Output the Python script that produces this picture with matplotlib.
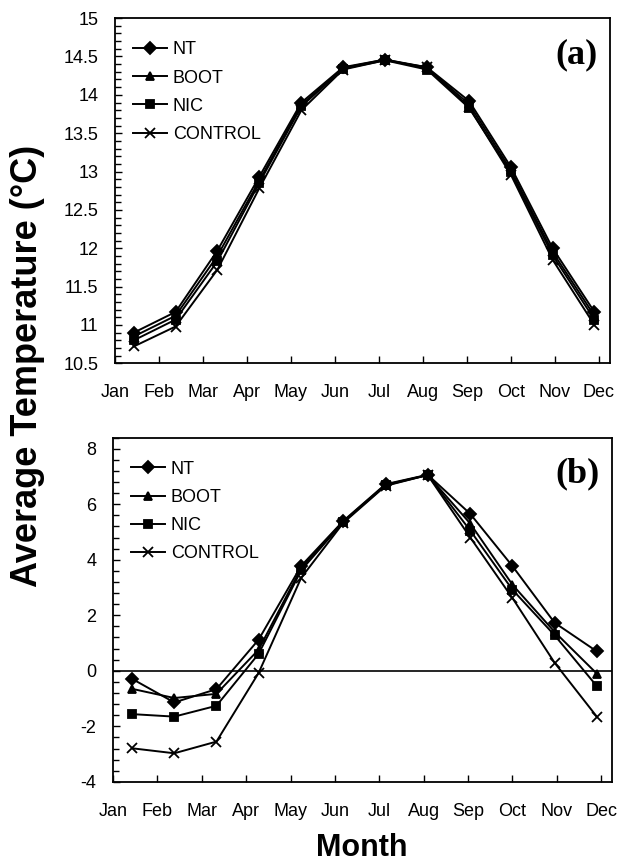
#!/usr/bin/env python3
"""Monthly average temperature for the four runs, two panels."""

import matplotlib
matplotlib.use("Agg")
import matplotlib.pyplot as plt
from matplotlib.ticker import MultipleLocator

plt.rcParams['font.family'] = ['Liberation Sans', 'DejaVu Sans']
plt.rcParams['axes.unicode_minus'] = False

MONTHS = ['Jan', 'Feb', 'Mar', 'Apr', 'May', 'Jun',
          'Jul', 'Aug', 'Sep', 'Oct', 'Nov', 'Dec']
# where the points sit on the month axis (labels are at 1..12)
MONTH_X = [1.43, 2.38, 3.33, 4.28, 5.24, 6.19, 7.14, 8.09, 9.05, 10.0, 10.95, 11.9]

SERIES = ['NT', 'BOOT', 'NIC', 'CONTROL']
MARKERS = {'NT': 'D', 'BOOT': '^', 'NIC': 's', 'CONTROL': 'x'}

# panel (a)
A_NT = [10.90, 11.17, 11.97, 12.93, 13.90, 14.36, 14.46, 14.36, 13.92, 13.06, 12.00, 11.17]
A_BOOT = [10.85, 11.12, 11.90, 12.88, 13.87, 14.35, 14.46, 14.35, 13.88, 13.02, 11.95, 11.12]
A_NIC = [10.80, 11.07, 11.83, 12.85, 13.85, 14.34, 14.45, 14.33, 13.83, 12.99, 11.91, 11.07]
A_CONTROL = [10.72, 10.98, 11.72, 12.78, 13.80, 14.33, 14.45, 14.36, 13.84, 12.96, 11.85, 11.00]

# panel (b)
B_NT = [-0.29, -1.14, -0.66, 1.12, 3.78, 5.40, 6.72, 7.06, 5.65, 3.77, 1.73, 0.70]
B_BOOT = [-0.65, -0.98, -0.83, 0.76, 3.70, 5.38, 6.70, 7.05, 5.30, 3.10, 1.40, -0.10]
B_NIC = [-1.56, -1.65, -1.26, 0.61, 3.62, 5.36, 6.68, 7.05, 5.05, 2.92, 1.28, -0.55]
B_CONTROL = [-2.79, -2.97, -2.55, -0.08, 3.35, 5.33, 6.66, 7.05, 4.80, 2.62, 0.29, -1.65]

fig = plt.figure(figsize=(6.21, 8.63), dpi=100)
ax_a = fig.add_axes([0.185, 0.579, 0.797, 0.400])
ax_b = fig.add_axes([0.182, 0.094, 0.804, 0.399])

panels = [
    (ax_a, [A_NT, A_BOOT, A_NIC, A_CONTROL], (10.5, 15), 0.5, 0.1, '(a)'),
    (ax_b, [B_NT, B_BOOT, B_NIC, B_CONTROL], (-4, 8.4), 2, 0.4, '(b)'),
]

for ax, data, ylim, major, minor, tag in panels:
    for name, vals in zip(SERIES, data):
        ms = 7 if name == 'CONTROL' else 6
        ax.plot(MONTH_X, vals, color='black', lw=1.4, marker=MARKERS[name],
                ms=ms, mew=1.3, label=name)

    ax.set_xlim(1, 12.25)
    ax.set_ylim(*ylim)
    ax.set_xticks(range(1, 13))
    ax.set_xticklabels(MONTHS)
    ax.yaxis.set_major_locator(MultipleLocator(major))
    ax.yaxis.set_minor_locator(MultipleLocator(minor))
    ax.tick_params(axis='both', which='both', direction='in', labelsize=13,
                   top=False, right=False, width=1, color='black')
    ax.tick_params(axis='both', which='major', length=5)
    ax.tick_params(axis='y', which='minor', length=4)
    ax.tick_params(axis='y', pad=12)
    ax.tick_params(axis='x', pad=15)
    for sp in ax.spines.values():
        sp.set_linewidth(1.3)

    ax.legend(loc='upper left', frameon=False, fontsize=13, handlelength=1.9,
              handletextpad=0.3, labelspacing=0.62, borderaxespad=0.6,
              bbox_to_anchor=(0.0, 0.985))
    ax.text(0.975, 0.895, tag, transform=ax.transAxes, ha='right', va='center',
            fontsize=26, fontweight='bold', family='Liberation Serif')

ax_a.yaxis.set_major_formatter(plt.FuncFormatter(lambda v, p: f'{v:g}'))
ax_b.axhline(0, color='black', lw=1.2)

fig.text(0.045, 0.576, 'Average Temperature (°C)', rotation=90, ha='center',
         va='center', fontsize=26, fontweight='bold')
fig.text(0.583, 0.017, 'Month', ha='center', va='center', fontsize=22,
         fontweight='bold')

fig.savefig('out.png', dpi=100)
